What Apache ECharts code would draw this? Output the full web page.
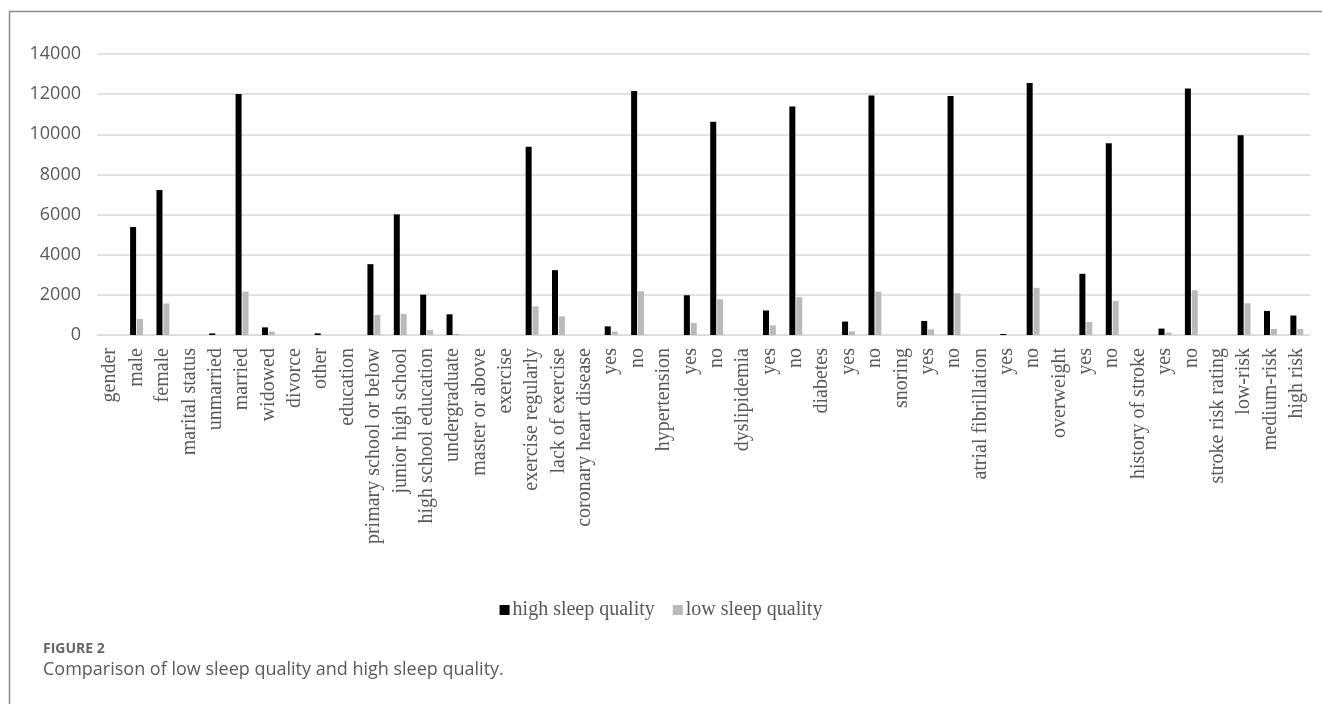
<!DOCTYPE html>
<html>
<head>
<meta charset="utf-8">
<script src="https://cdn.jsdelivr.net/npm/echarts@6/dist/echarts.min.js"></script>
<style>
  html, body { margin: 0; padding: 0; background: #ffffff; }
  #chart { width: 1322px; height: 704px; }
</style>
</head>
<body>
<div id="chart"></div>
<script>
// Group headings and their sub-categories along the x axis
const categories = [
  'gender', 'male', 'female',
  'marital status', 'unmarried', 'married', 'widowed', 'divorce', 'other',
  'education', 'primary school or below', 'junior high school', 'high school education', 'undergraduate', 'master or above',
  'exercise', 'exercise regularly', 'lack of exercise',
  'coronary heart disease', 'yes', 'no',
  'hypertension', 'yes', 'no',
  'dyslipidemia', 'yes', 'no',
  'diabetes', 'yes', 'no',
  'snoring', 'yes', 'no',
  'atrial fibrillation', 'yes', 'no',
  'overweight', 'yes', 'no',
  'history of stroke', 'yes', 'no',
  'stroke risk rating', 'low-risk', 'medium-risk', 'high risk'
];

const highSleepQuality = [
  0, 5380, 7220,
  0, 80, 12010, 380, 0, 80,
  0, 3530, 6010, 2010, 1030, 0,
  0, 9380, 3230,
  0, 430, 12160,
  0, 1980, 10620,
  0, 1220, 11380,
  0, 670, 11930,
  0, 700, 11910,
  0, 50, 12560,
  0, 3050, 9550,
  0, 320, 12280,
  0, 9950, 1200, 970
];

const lowSleepQuality = [
  0, 800, 1570,
  0, 0, 2160, 170, 0, 0,
  0, 1000, 1050, 250, 60, 0,
  0, 1430, 930,
  0, 170, 2180,
  0, 600, 1780,
  0, 480, 1880,
  0, 180, 2160,
  0, 280, 2080,
  0, 0, 2350,
  0, 650, 1700,
  0, 120, 2230,
  0, 1580, 300, 300
];

const yTicks = { min: 0, max: 14000, interval: 2000 };

const seriesNames = ['high sleep quality', 'low sleep quality'];
const seriesColors = ['#000000', '#bababa'];

const chart = echarts.init(document.getElementById('chart'), null, { renderer: 'canvas' });

const labelColor = '#595959';
const serif = '"Liberation Serif", "Times New Roman", serif';
const sans = '"Open Sans", "Liberation Sans", sans-serif';

chart.setOption({
  animation: false,
  backgroundColor: '#ffffff',
  grid: { left: 97, right: 12, top: 54, bottom: 369, containLabel: false },
  legend: {
    data: seriesNames,
    left: 'center',
    top: 595,
    icon: 'rect',
    itemWidth: 10,
    itemHeight: 10,
    itemGap: 18,
    textStyle: { fontFamily: serif, fontSize: 20, color: labelColor, padding: [0, 0, 0, -2] }
  },
  xAxis: {
    type: 'category',
    data: categories,
    axisLine: { lineStyle: { color: '#d9d9d9', width: 1 } },
    axisTick: { show: false },
    axisLabel: {
      interval: 0,
      rotate: 90,
      margin: 13,
      fontFamily: serif,
      fontSize: 20,
      color: labelColor
    }
  },
  yAxis: {
    type: 'value',
    min: yTicks.min,
    max: yTicks.max,
    interval: yTicks.interval,
    axisLine: { show: false },
    axisTick: { show: false },
    splitLine: { lineStyle: { color: '#d9d9d9', width: 1.5 } },
    axisLabel: {
      margin: 16,
      fontFamily: sans,
      fontSize: 18,
      color: labelColor,
      formatter: (v) => String(v)
    }
  },
  series: [
    {
      name: seriesNames[0],
      type: 'bar',
      data: highSleepQuality,
      barWidth: 6,
      barGap: '15%',
      itemStyle: { color: seriesColors[0] }
    },
    {
      name: seriesNames[1],
      type: 'bar',
      data: lowSleepQuality,
      barWidth: 6,
      itemStyle: { color: seriesColors[1] }
    }
  ],
  graphic: [
    // figure frame: top and left rules
    { type: 'line', shape: { x1: 9, y1: 11.5, x2: 1322, y2: 11.5 }, style: { stroke: '#8a8a8a', lineWidth: 1.5 } },
    { type: 'line', shape: { x1: 9.5, y1: 11, x2: 9.5, y2: 704 }, style: { stroke: '#8a8a8a', lineWidth: 1.5 } },
    {
      type: 'text', left: 43, top: 642,
      style: { text: 'FIGURE 2', fontFamily: sans, fontSize: 14, fontWeight: 'bold', fill: '#666666' }
    },
    {
      type: 'text', left: 43, top: 661,
      style: { text: 'Comparison of low sleep quality and high sleep quality.', fontFamily: sans, fontSize: 18, fill: '#5a5a5a' }
    }
  ]
});
</script>
</body>
</html>
